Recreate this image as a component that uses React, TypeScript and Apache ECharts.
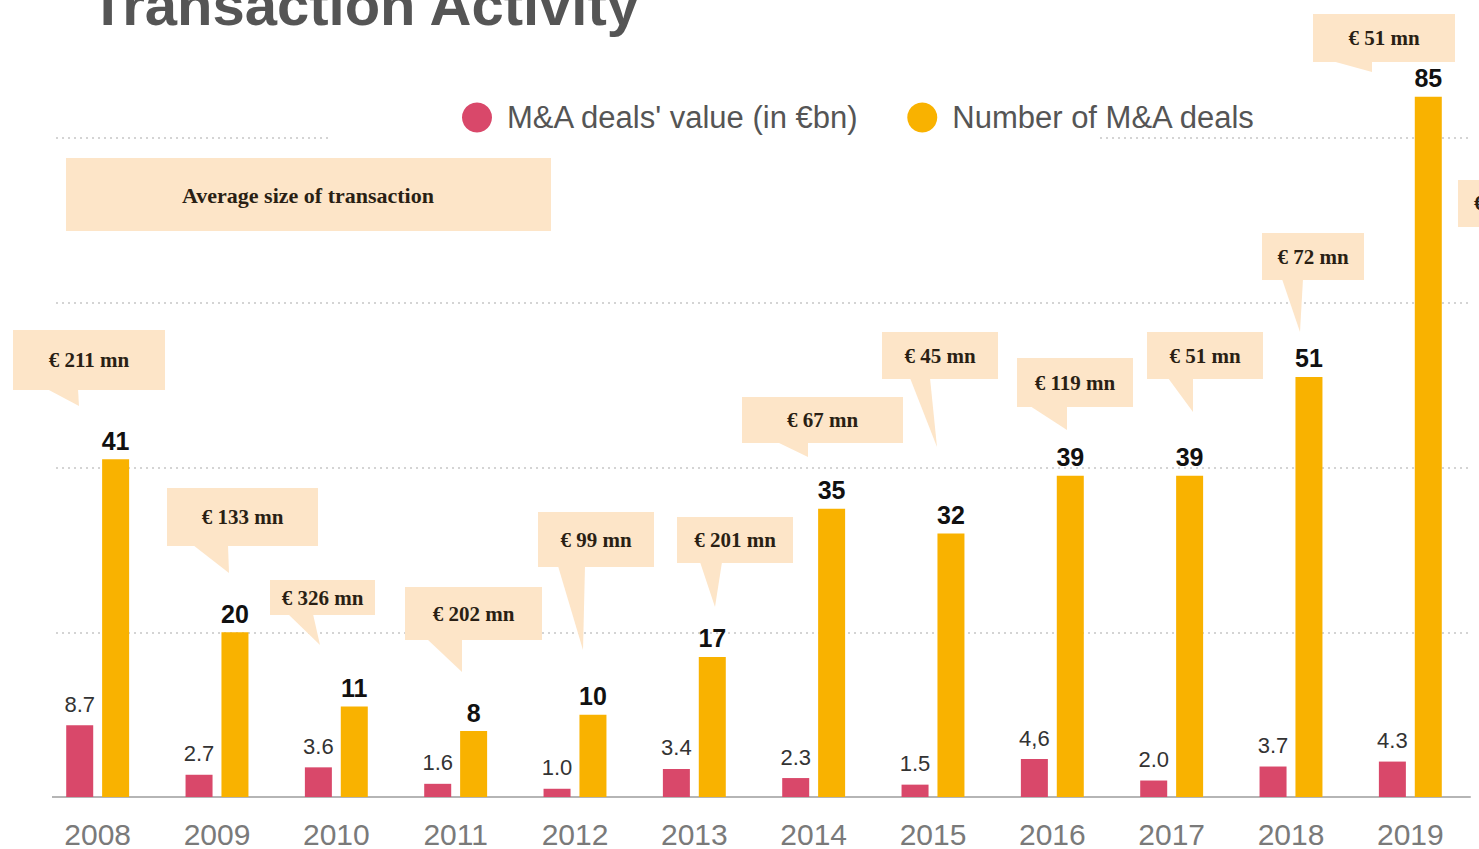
import React, { useEffect, useRef } from "react";
import * as echarts from "echarts";

const years = ["2008", "2009", "2010", "2011", "2012", "2013", "2014", "2015", "2016", "2017", "2018", "2019"];
const dealValues = [8.7, 2.7, 3.6, 1.6, 1.0, 3.4, 2.3, 1.5, 4.6, 2.0, 3.7, 4.3];
const dealValueLabels = ["8.7", "2.7", "3.6", "1.6", "1.0", "3.4", "2.3", "1.5", "4,6", "2.0", "3.7", "4.3"];
const dealCounts = [41, 20, 11, 8, 10, 17, 35, 32, 39, 39, 51, 85];
const avgSizes = ["€ 211 mn", "€ 133 mn", "€ 326 mn", "€ 202 mn", "€ 99 mn", "€ 201 mn", "€ 67 mn", "€ 45 mn", "€ 119 mn", "€ 51 mn", "€ 72 mn", "€ 51 mn"];

// callout layout: box [x, y, w, h], tail [baseLeftX, baseRightX, tipX, tipY]
const calloutBoxes = [
  [13, 330, 152, 60], [167, 488, 151, 58], [270, 580, 105, 35], [405, 587, 137, 53],
  [538, 512, 116, 55], [677, 517, 116, 46], [742, 397, 161, 46], [882, 332, 116, 47],
  [1017, 358, 116, 49], [1147, 332, 116, 47], [1262, 233, 102, 47], [1313, 14, 142, 48],
];
const calloutTails = [
  [47, 78, 79, 406], [193, 228, 229, 573], [288, 313, 320, 645], [427, 462, 462, 672],
  [558, 585, 583, 650], [700, 722, 715, 607], [777, 808, 808, 457], [910, 930, 937, 447],
  [1030, 1067, 1067, 430], [1168, 1193, 1193, 412], [1282, 1303, 1300, 332], [1332, 1372, 1372, 72],
];

const RED = "#d9486a";
const YELLOW = "#f9b200";
const PEACH = "#fde5c8";
const SERIF = "'Liberation Serif', 'DejaVu Serif', serif";
const SANS = "'Liberation Sans', Arial, sans-serif";

export default function App() {
  const ref = useRef<HTMLDivElement>(null);
  useEffect(() => {
    document.body.style.margin = "0";
    const chart = echarts.init(ref.current!, undefined, { renderer: "svg" });

    const graphics: any[] = [];
    // title
    graphics.push({
      type: "text", x: 90, y: 4, z: 20,
      style: { text: "Transaction Activity", font: `bold 58px ${SANS}`, fill: "#555555", verticalAlign: "middle", align: "left" },
    });
    // white mask over top gridline behind legend
    graphics.push({ type: "rect", shape: { x: 330, y: 128, width: 767, height: 18 }, style: { fill: "#ffffff" }, z: 1 });
    // axis start mask (axis line begins further right in the reference)
    graphics.push({ type: "rect", shape: { x: 30, y: 120, width: 22, height: 690 }, style: { fill: "#ffffff" }, z: 1 });
    // average size header box
    graphics.push({ type: "rect", shape: { x: 66, y: 158, width: 485, height: 73 }, style: { fill: PEACH }, z: 10 });
    graphics.push({
      type: "text", x: 308, y: 195, z: 11,
      style: { text: "Average size of transaction", font: `bold 22px ${SERIF}`, fill: "#2a1f14", align: "center", verticalAlign: "middle" },
    });
    avgSizes.forEach((t, i) => {
      const [bx, by, bw, bh] = calloutBoxes[i];
      const [l, r, tx, ty] = calloutTails[i];
      graphics.push({ type: "rect", shape: { x: bx, y: by, width: bw, height: bh }, style: { fill: PEACH }, z: 10 });
      graphics.push({
        type: "polygon", shape: { points: [[l, by + bh - 1], [r, by + bh - 1], [tx, ty]] }, style: { fill: PEACH }, z: 10,
      });
      graphics.push({
        type: "text", x: bx + bw / 2, y: by + bh / 2, z: 11,
        style: { text: t, font: `bold 21px ${SERIF}`, fill: "#2a1f14", align: "center", verticalAlign: "middle" },
      });
    });
    // partially visible box at right edge
    graphics.push({ type: "rect", shape: { x: 1458, y: 180, width: 80, height: 47 }, style: { fill: PEACH }, z: 10 });
    graphics.push({
      type: "text", x: 1474, y: 203, z: 11,
      style: { text: "€", font: `bold 21px ${SERIF}`, fill: "#2a1f14", align: "left", verticalAlign: "middle" },
    });

    chart.setOption({
      animation: false,
      backgroundColor: "#ffffff",
      legend: {
        left: 457, top: 97,
        icon: "circle", itemWidth: 30, itemHeight: 30, itemGap: 48,
        textStyle: { fontSize: 31, color: "#555555", fontFamily: SANS, padding: [0, 0, 0, 10] },
        data: ["M&A deals' value (in €bn)", "Number of M&A deals"],
      },
      grid: { left: 38, right: 9, top: 138, bottom: 51, containLabel: false },
      xAxis: {
        type: "category",
        data: years,
        axisTick: { show: false },
        axisLine: { lineStyle: { color: "#b5b5b5", width: 2 } },
        axisLabel: { fontSize: 30, color: "#7a7a7a", fontFamily: SANS, margin: 22 },
      },
      yAxis: {
        type: "value", min: 0, max: 80, interval: 20,
        axisLabel: { show: false },
        axisLine: { show: false },
        axisTick: { show: false },
        splitLine: { lineStyle: { color: "#d4d4d4", width: 2, type: [2, 4] } },
      },
      series: [
        {
          name: "M&A deals' value (in €bn)",
          type: "bar",
          data: dealValues,
          barWidth: 27,
          barGap: "33%",
          clip: false,
          itemStyle: { color: RED },
          label: {
            show: true, position: "top", distance: 10,
            formatter: (p: any) => dealValueLabels[p.dataIndex],
            fontSize: 22, color: "#333333", fontFamily: SANS,
          },
        },
        {
          name: "Number of M&A deals",
          type: "bar",
          data: dealCounts,
          barWidth: 27,
          clip: false,
          itemStyle: { color: YELLOW },
          label: {
            show: true, position: "top", distance: 6,
            fontSize: 25, fontWeight: "bold", color: "#111111", fontFamily: SANS,
          },
        },
      ],
      graphic: graphics,
    });
    return () => chart.dispose();
  }, []);
  return <div ref={ref} style={{ position: "absolute", left: 0, top: 0, width: 1479, height: 849 }} />;
}
